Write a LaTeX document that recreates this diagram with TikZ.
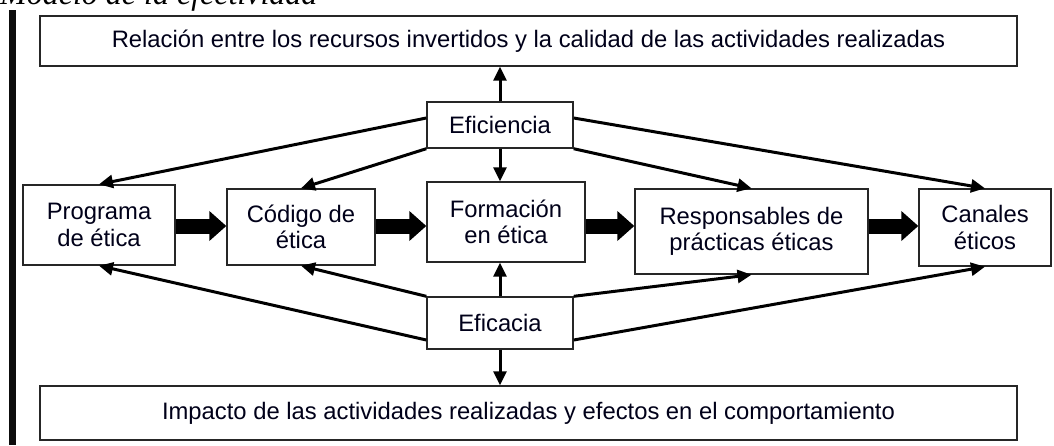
\documentclass[tikz,border=0pt]{standalone}
\usepackage{fontspec}
\setmainfont{Liberation Sans}
\newfontfamily\capfont{Liberation Serif}
\usetikzlibrary{arrows.meta,calc}
\begin{document}
\begin{tikzpicture}[x=1pt,y=-1pt,
  box/.style={draw=black!85,line width=1.4pt,fill=white,inner sep=0pt,align=center,
    font=\fontsize{23.8}{26.5}\selectfont,text=black!90!blue},
  thin/.style={line width=3pt,-{Triangle[length=14pt,width=13pt]}},
  fat/.style={line width=15pt,-{Triangle[length=17pt,width=29pt]}}]
\useasboundingbox (0,0) rectangle (1054,445);
\node[anchor=base west,font=\capfont\itshape\fontsize{32}{36}\selectfont,inner sep=0pt] (cap) at (0,4) {Modelo de la efectividad};
\fill[black!95] (9,10) rectangle (16,445);
\node[box,minimum width=977pt,minimum height=50pt] (top) at (528.5,41) {Relación entre los recursos invertidos y la calidad de las actividades realizadas};
\node[box,minimum width=977pt,minimum height=54pt] (bot) at (528.5,413) {Impacto de las actividades realizadas y efectos en el comportamiento};
\node[box,minimum width=146pt,minimum height=46pt] (efi) at (500,125) {Eficiencia};
\node[box,minimum width=146pt,minimum height=52pt] (efa) at (500,323) {Eficacia};
\node[box,minimum width=152pt,minimum height=80pt] (prog) at (99,225) {Programa\\de ética};
\node[box,minimum width=148pt,minimum height=76pt] (cod) at (301,227) {Código de\\ética};
\node[box,minimum width=158pt,minimum height=80pt] (form) at (506,222) {Formación\\en ética};
\node[box,minimum width=233pt,minimum height=85pt] (resp) at (751.5,231.5) {Responsables de\\prácticas éticas};
\node[box,minimum width=132pt,minimum height=77pt] (can) at (985,227.5) {Canales\\éticos};
% thick arrows
\draw[fat] (prog.east |- 0,226) -- (cod.west |- 0,226);
\draw[fat] (cod.east |- 0,226) -- (form.west |- 0,226);
\draw[fat] (form.east |- 0,226) -- (resp.west |- 0,226);
\draw[fat] (resp.east |- 0,226) -- (can.west |- 0,226);
% eficiencia
\draw[thin] (efi.north) -- (efi.north |- top.south);
\draw[thin] (efi.south) -- (efi.south |- form.north);
\draw[thin] (efi.west |- 0,118) -- (prog.north);
\draw[thin] (efi.south west) -- (cod.north);
\draw[thin] (efi.east |- 0,118) -- (can.north);
\draw[thin] (efi.south east) -- (resp.north);
% eficacia
\draw[thin] (efa.north) -- (efa.north |- form.south);
\draw[thin] (efa.south) -- (efa.south |- bot.north);
\draw[thin] (efa.north west) -- (cod.south);
\draw[thin] (efa.west |- 0,340) -- (prog.south);
\draw[thin] (efa.north east) -- (resp.south);
\draw[thin] (efa.east |- 0,340) -- (can.south);
\end{tikzpicture}
\end{document}
